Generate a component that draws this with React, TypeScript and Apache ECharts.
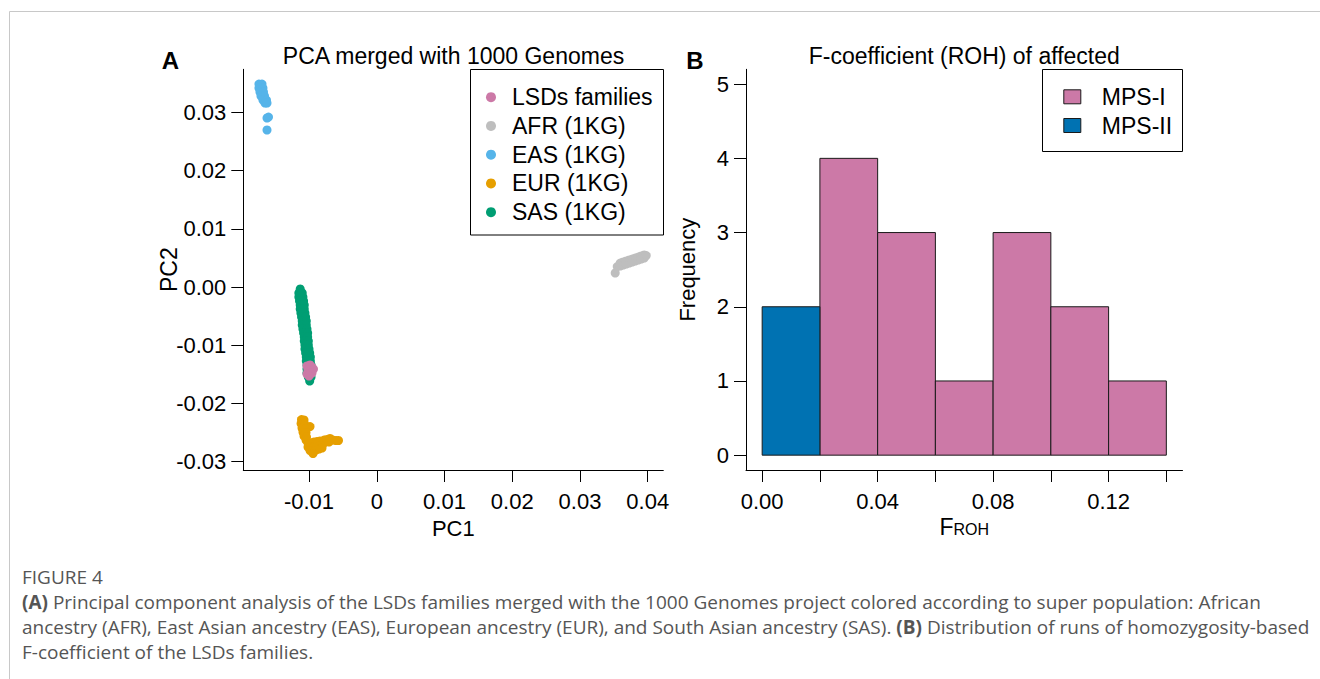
import React, { useEffect, useRef } from "react";
import * as echarts from "echarts";

// ---------- Panel A data (PC1, PC2) ----------
const LSD: number[][] = [
  [-0.0103, -0.01357], [-0.00985, -0.0134], [-0.00956, -0.01375], [-0.01015, -0.01426],
  [-0.0097, -0.01426], [-0.00934, -0.01409], [-0.0103, -0.01495], [-0.00985, -0.01495],
  [-0.00956, -0.01478], [-0.01, -0.01529],
];
const AFR: number[][] = [
  [0.0355, 0.00352], [0.03594, 0.00412], [0.03594, 0.00361], [0.03638, 0.0043], [0.03638, 0.00378],
  [0.03683, 0.00447], [0.03683, 0.00395], [0.03727, 0.00464], [0.03727, 0.00412], [0.03771, 0.00481],
  [0.03771, 0.0043], [0.03815, 0.00498], [0.03815, 0.00447], [0.0386, 0.00515], [0.0386, 0.00464],
  [0.03904, 0.00533], [0.03904, 0.00481], [0.03948, 0.0055], [0.03948, 0.00498], [0.03978, 0.00541],
  [0.0352, 0.00241],
];
const EAS: number[][] = [
  [-0.01739, 0.03488], [-0.01694, 0.03488], [-0.01739, 0.03419], [-0.0168, 0.03419], [-0.01724, 0.03351],
  [-0.01672, 0.03351], [-0.01709, 0.03282], [-0.01657, 0.03282], [-0.0168, 0.03213], [-0.01628, 0.03213],
  [-0.0165, 0.03162], [-0.0162, 0.03162], [-0.0162, 0.02904], [-0.01598, 0.02921], [-0.0162, 0.02698],
];
const EUR: number[][] = [
  [-0.01111, -0.02277], [-0.01074, -0.02285], [-0.01117, -0.02345], [-0.01066, -0.02354], [-0.00985, -0.02397],
  [-0.01103, -0.02423], [-0.01052, -0.02431], [-0.01089, -0.02491], [-0.01044, -0.025], [-0.01074, -0.0256],
  [-0.01037, -0.02577], [-0.01044, -0.02629], [-0.01015, -0.0268], [-0.0097, -0.0268], [-0.00926, -0.02663],
  [-0.00882, -0.02655], [-0.00838, -0.02646], [-0.01015, -0.02749], [-0.0097, -0.02749], [-0.00926, -0.02741],
  [-0.00882, -0.02732], [-0.00838, -0.02715], [-0.00793, -0.02698], [-0.00985, -0.02809], [-0.00941, -0.02818],
  [-0.00897, -0.02801], [-0.00852, -0.02784], [-0.00808, -0.02766], [-0.00941, -0.02861], [-0.00778, -0.02629],
  [-0.00734, -0.0262], [-0.0069, -0.02603], [-0.00646, -0.02629], [-0.00602, -0.02637], [-0.00565, -0.02637],
  [-0.00705, -0.02663],
];
const SAS: number[][] = [
  [-0.0113, -0.00034],
  [-0.0115, -0.00103], [-0.011, -0.00103], [-0.0115, -0.00172], [-0.0109, -0.00172],
  [-0.0114, -0.00241], [-0.0108, -0.00241], [-0.0113, -0.00309], [-0.0107, -0.00309],
  [-0.0113, -0.00378], [-0.0107, -0.00378], [-0.0112, -0.00447], [-0.0106, -0.00447],
  [-0.0111, -0.00515], [-0.0105, -0.00515], [-0.011, -0.00584], [-0.0104, -0.00584],
  [-0.011, -0.00653], [-0.0104, -0.00653], [-0.0109, -0.00722], [-0.0103, -0.00722],
  [-0.0108, -0.0079], [-0.0102, -0.0079], [-0.0107, -0.00859], [-0.0102, -0.00859],
  [-0.0107, -0.00928], [-0.0101, -0.00928], [-0.0106, -0.00997], [-0.0101, -0.00997],
  [-0.0106, -0.01065], [-0.01, -0.01065], [-0.0105, -0.01134], [-0.0099, -0.01134],
  [-0.0104, -0.01203], [-0.0098, -0.01203], [-0.0104, -0.01271], [-0.0098, -0.01271],
  [-0.0103, -0.0134], [-0.0097, -0.0134], [-0.0103, -0.01409], [-0.0097, -0.01409],
  [-0.0103, -0.01478], [-0.0097, -0.01478], [-0.0101, -0.01546], [-0.0097, -0.01546],
  [-0.0099, -0.01615],
];
const pcaXTicks = [-0.01, 0, 0.01, 0.02, 0.03, 0.04];
const pcaYTicks = [-0.03, -0.02, -0.01, 0, 0.01, 0.02, 0.03];

// ---------- Panel B data (histogram of F_ROH) ----------
const binStarts = [0.0, 0.02, 0.04, 0.06, 0.08, 0.1, 0.12];
const binWidth = 0.02;
const mps1Counts = [0, 4, 3, 1, 3, 2, 1];
const mps2Counts = [2, 0, 0, 0, 0, 0, 0];
const frohTicks = [0, 0.02, 0.04, 0.06, 0.08, 0.1, 0.12, 0.14];
const frohLabels = [0, 0.04, 0.08, 0.12];
const freqTicks = [0, 1, 2, 3, 4, 5];

const FONT = "'Liberation Sans', Arial, Helvetica, sans-serif";
const CAP_FONT = "'Open Sans', 'Liberation Sans', sans-serif";
const COL = {
  lsd: "#CC79A7",
  afr: "#BEBEBE",
  eas: "#56B4E9",
  eur: "#E69F00",
  sas: "#009E73",
  mps1: "#CC79A7",
  mps2: "#0072B2",
};

function histData(counts: number[]) {
  return binStarts
    .map((s, i) => [s, s + binWidth, counts[i]])
    .filter((d) => d[2] > 0);
}

function histRender(color: string) {
  return (params: any, api: any) => {
    const p0 = api.coord([api.value(0), api.value(2)]);
    const p1 = api.coord([api.value(1), 0]);
    return {
      type: "rect",
      shape: { x: p0[0], y: p0[1], width: p1[0] - p0[0], height: p1[1] - p0[1] },
      style: { fill: color, stroke: "#1a1a1a", lineWidth: 1 },
    };
  };
}

const axisCommon = {
  axisLine: { show: true, onZero: false, lineStyle: { color: "#000", width: 1 } },
  axisTick: { show: true, inside: false, length: 12, lineStyle: { color: "#000", width: 1 } },
  splitLine: { show: false },
  nameMoveOverlap: false,
};

const scatterSeries = (name: string, data: number[][], color: string) => ({
  type: "scatter",
  name,
  xAxisIndex: 0,
  yAxisIndex: 0,
  data,
  symbol: "circle",
  symbolSize: 9,
  itemStyle: { color, opacity: 1 },
  emphasis: { disabled: true },
});

export default function App() {
  const ref = useRef<HTMLDivElement>(null);

  useEffect(() => {
    document.body.style.margin = "0";
    document.body.style.background = "#fff";
    if (!ref.current) return;
    const chart = echarts.init(ref.current, undefined, { renderer: "svg" });
    const capSize = 19;
    const captionRich = {
      b: { fontWeight: "bold", fontSize: capSize, fontFamily: CAP_FONT, fill: "#555" },
    };
    const capFont = `${capSize}px ${CAP_FONT}`;
    const option: any = {
      animation: false,
      backgroundColor: "#fff",
      textStyle: { fontFamily: FONT, color: "#000" },
      grid: [
        { left: 243.3, top: 69.3, width: 420, height: 400.7, outerBoundsMode: "none" },
        { left: 746, top: 69.3, width: 436.5, height: 400.7, outerBoundsMode: "none" },
      ],
      xAxis: [
        {
          ...axisCommon,
          type: "value",
          gridIndex: 0,
          min: -0.0197,
          max: 0.0423,
          axisTick: { ...axisCommon.axisTick, customValues: pcaXTicks },
          axisLabel: {
            customValues: pcaXTicks,
            margin: 20,
            fontSize: 22,
            color: "#000",
            fontFamily: FONT,
            formatter: (v: number) => (Math.abs(v) < 1e-12 ? "0" : v.toFixed(2)),
          },
          name: "PC1",
          nameLocation: "middle",
          nameGap: 47,
          nameTextStyle: { fontSize: 22, color: "#000", fontFamily: FONT },
        },
        {
          ...axisCommon,
          type: "value",
          gridIndex: 1,
          min: -0.0056,
          max: 0.1456,
          axisTick: { ...axisCommon.axisTick, customValues: frohTicks },
          axisLabel: {
            customValues: frohLabels,
            margin: 20,
            fontSize: 22,
            color: "#000",
            fontFamily: FONT,
            formatter: (v: number) => v.toFixed(2),
          },
          name: "{f|F}{s|ROH}",
          nameLocation: "middle",
          nameGap: 45,
          nameTextStyle: {
            fontFamily: FONT,
            color: "#000",
            rich: {
              f: { fontSize: 23, lineHeight: 22, verticalAlign: "top", fontFamily: FONT, color: "#000" },
              s: { fontSize: 16, lineHeight: 16, verticalAlign: "bottom", fontFamily: FONT, color: "#000" },
            },
            lineHeight: 24,
          },
        },
      ],
      yAxis: [
        {
          ...axisCommon,
          type: "value",
          gridIndex: 0,
          min: -0.03144,
          max: 0.03741,
          axisTick: { ...axisCommon.axisTick, customValues: pcaYTicks },
          axisLabel: {
            customValues: pcaYTicks,
            margin: 17,
            fontSize: 22,
            color: "#000",
            fontFamily: FONT,
            formatter: (v: number) => (Math.abs(v) < 1e-12 ? "0.00" : v.toFixed(2)),
          },
          name: "PC2",
          nameLocation: "middle",
          nameGap: 63,
          nameTextStyle: { fontSize: 23, color: "#000", fontFamily: FONT },
        },
        {
          ...axisCommon,
          type: "value",
          gridIndex: 1,
          min: -0.2,
          max: 5.2,
          axisTick: { ...axisCommon.axisTick, customValues: freqTicks },
          axisLabel: {
            customValues: freqTicks,
            margin: 17,
            fontSize: 22,
            color: "#000",
            fontFamily: FONT,
          },
          name: "Frequency",
          nameLocation: "middle",
          nameGap: 48,
          nameTextStyle: { fontSize: 22, color: "#000", fontFamily: FONT },
        },
      ],
      legend: [
        {
          orient: "vertical",
          left: 486,
          top: 85.7,
          padding: 0,
          itemGap: 5.75,
          itemWidth: 32,
          itemHeight: 10,
          icon: "circle",
          selectedMode: false,
          data: ["LSDs families", "AFR (1KG)", "EAS (1KG)", "EUR (1KG)", "SAS (1KG)"],
          textStyle: { fontSize: 23, lineHeight: 22, color: "#000", fontFamily: FONT },
        },
        {
          orient: "vertical",
          left: 1063.3,
          top: 85.3,
          padding: 0,
          itemGap: 5.7,
          itemWidth: 17,
          itemHeight: 14,
          icon: "rect",
          selectedMode: false,
          itemStyle: { borderColor: "#1a1a1a", borderWidth: 1 },
          data: ["MPS-I", "MPS-II"],
          textStyle: { fontSize: 23, lineHeight: 22, color: "#000", fontFamily: FONT, padding: [0, 0, 0, 16] },
        },
      ],
      series: [
        scatterSeries("AFR (1KG)", AFR, COL.afr),
        scatterSeries("EAS (1KG)", EAS, COL.eas),
        scatterSeries("EUR (1KG)", EUR, COL.eur),
        scatterSeries("SAS (1KG)", SAS, COL.sas),
        scatterSeries("LSDs families", LSD, COL.lsd),
        {
          type: "custom",
          name: "MPS-I",
          xAxisIndex: 1,
          yAxisIndex: 1,
          data: histData(mps1Counts),
          encode: { x: [0, 1], y: 2 },
          itemStyle: { color: COL.mps1 },
          renderItem: histRender(COL.mps1),
        },
        {
          type: "custom",
          name: "MPS-II",
          xAxisIndex: 1,
          yAxisIndex: 1,
          data: histData(mps2Counts),
          encode: { x: [0, 1], y: 2 },
          itemStyle: { color: COL.mps2 },
          renderItem: histRender(COL.mps2),
        },
      ],
      graphic: [
        // page frame
        { type: "line", shape: { x1: 9.5, y1: 11.5, x2: 1320, y2: 11.5 }, style: { stroke: "#c8c8c8", lineWidth: 1 } },
        { type: "line", shape: { x1: 9.5, y1: 11.5, x2: 9.5, y2: 679 }, style: { stroke: "#c8c8c8", lineWidth: 1 } },
        // legend boxes
        { type: "rect", shape: { x: 470.5, y: 69.5, width: 193, height: 165.5 }, style: { fill: "none", stroke: "#000", lineWidth: 1 } },
        { type: "rect", shape: { x: 1042.5, y: 69.5, width: 140, height: 82 }, style: { fill: "none", stroke: "#000", lineWidth: 1 } },
        // titles
        {
          type: "text", x: 453.5, y: 55.7,
          style: { text: "PCA merged with 1000 Genomes", font: `23px ${FONT}`, fill: "#000", textAlign: "center", textVerticalAlign: "middle" },
        },
        {
          type: "text", x: 964.3, y: 55.7,
          style: { text: "F-coefficient (ROH) of affected", font: `23px ${FONT}`, fill: "#000", textAlign: "center", textVerticalAlign: "middle" },
        },
        {
          type: "text", x: 170.5, y: 60.8,
          style: { text: "A", font: `bold 24px ${FONT}`, fill: "#000", textAlign: "center", textVerticalAlign: "middle" },
        },
        {
          type: "text", x: 695, y: 60.8,
          style: { text: "B", font: `bold 24px ${FONT}`, fill: "#000", textAlign: "center", textVerticalAlign: "middle" },
        },
        // caption
        {
          type: "text", x: 22, y: 577,
          style: { text: "FIGURE 4", font: capFont, fill: "#555", textAlign: "left", textVerticalAlign: "middle" },
        },
        {
          type: "text", x: 22, y: 602,
          style: {
            text: "{b|(A)} Principal component analysis of the LSDs families merged with the 1000 Genomes project colored according to super population: African",
            font: capFont, fill: "#555", textAlign: "left", textVerticalAlign: "middle", rich: captionRich,
          },
        },
        {
          type: "text", x: 22, y: 627,
          style: {
            text: "ancestry (AFR), East Asian ancestry (EAS), European ancestry (EUR), and South Asian ancestry (SAS). {b|(B)} Distribution of runs of homozygosity-based",
            font: capFont, fill: "#555", textAlign: "left", textVerticalAlign: "middle", rich: captionRich,
          },
        },
        {
          type: "text", x: 22, y: 652,
          style: { text: "F-coefficient of the LSDs families.", font: capFont, fill: "#555", textAlign: "left", textVerticalAlign: "middle" },
        },
      ],
    };
    chart.setOption(option);
    return () => chart.dispose();
  }, []);

  return <div ref={ref} style={{ width: 1320, height: 679, position: "relative" }} />;
}
